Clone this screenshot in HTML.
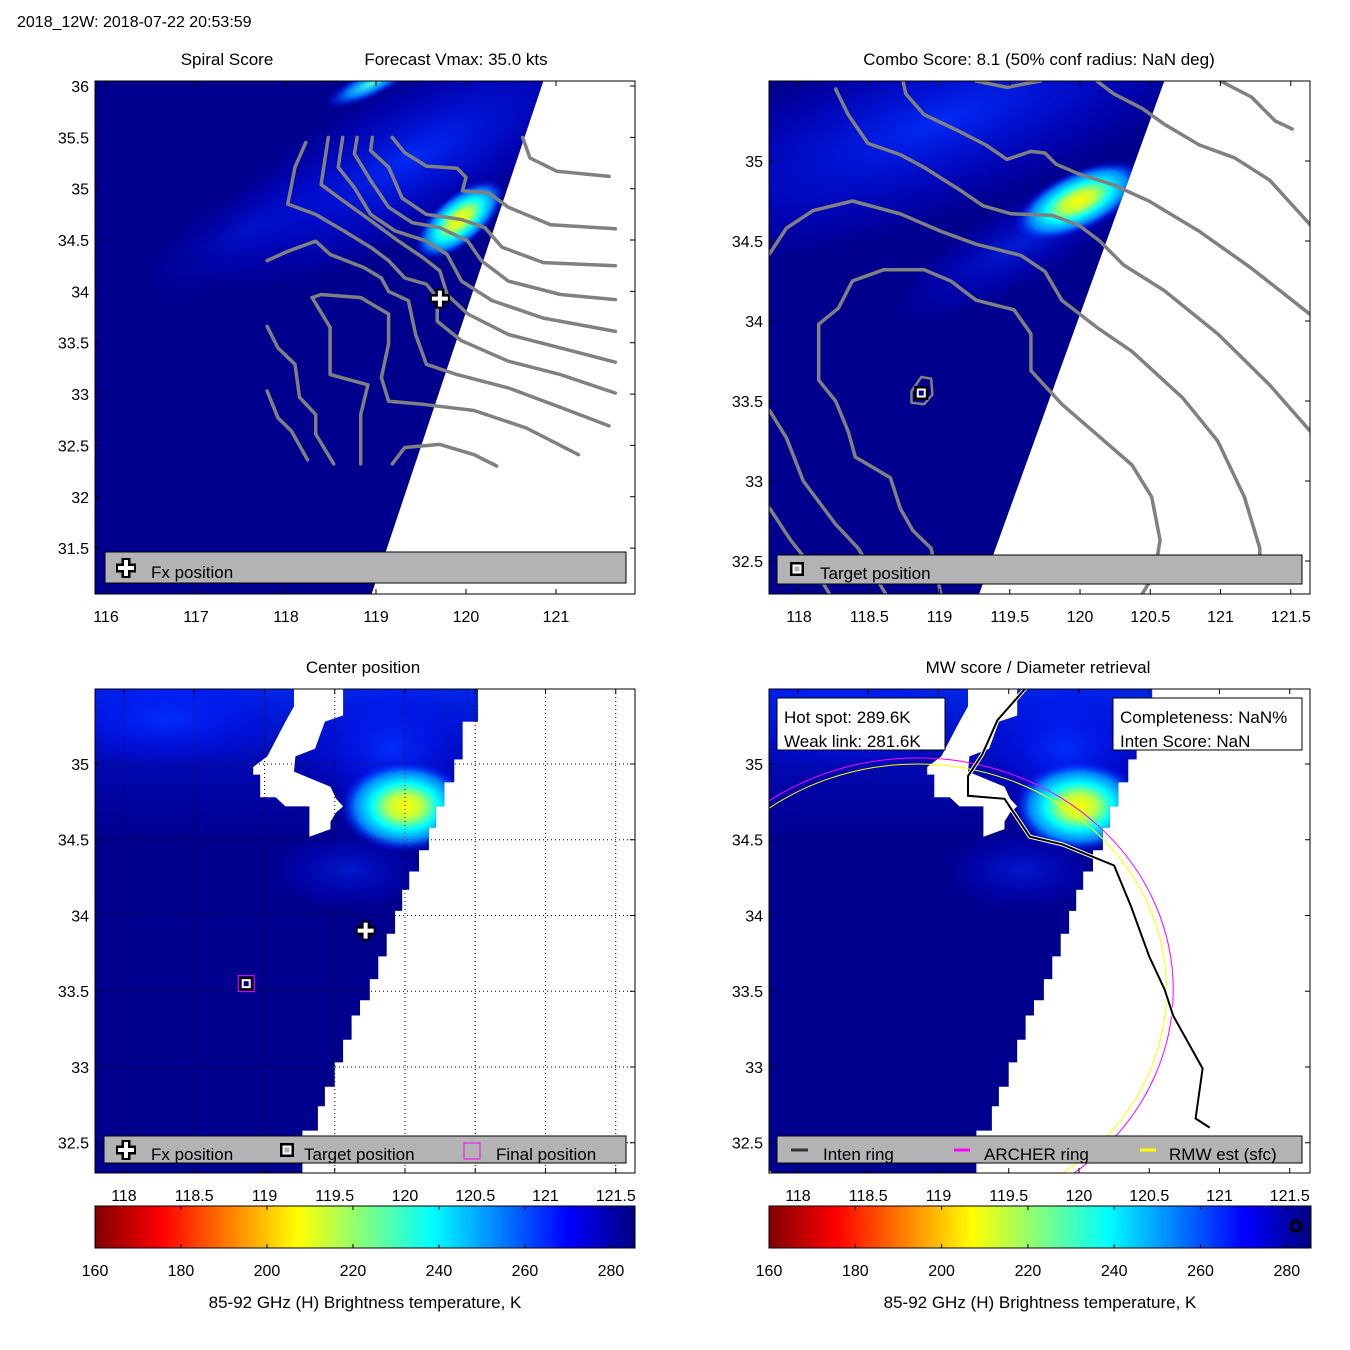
<!DOCTYPE html>
<html><head><meta charset="utf-8"><title>2018_12W</title>
<style>
html,body{margin:0;padding:0;background:#fff;}
svg{display:block;font-family:"Liberation Sans",Arial,sans-serif;}
</style></head>
<body>
<svg id="fig" xmlns="http://www.w3.org/2000/svg" width="1350" height="1350" viewBox="0 0 1350 1350">
<defs>
  <linearGradient id="jetbar" x1="0" x2="1" y1="0" y2="0">
    <stop offset="0" stop-color="#800000"/><stop offset="0.125" stop-color="#ff0000"/>
    <stop offset="0.375" stop-color="#ffff00"/><stop offset="0.5" stop-color="#80ff80"/>
    <stop offset="0.625" stop-color="#00ffff"/><stop offset="0.875" stop-color="#0000ff"/>
    <stop offset="1" stop-color="#000080"/>
  </linearGradient>
  <radialGradient id="blobG">
    <stop offset="0" stop-color="#ffff00"/><stop offset="0.25" stop-color="#c0ff40"/>
    <stop offset="0.5" stop-color="#00ffff"/><stop offset="0.75" stop-color="#0080ff"/>
    <stop offset="1" stop-color="#0000ff" stop-opacity="0"/>
  </radialGradient>
  <radialGradient id="cyanG">
    <stop offset="0" stop-color="#40ffe0"/><stop offset="0.5" stop-color="#0080ff"/>
    <stop offset="1" stop-color="#0000ff" stop-opacity="0"/>
  </radialGradient>
  <radialGradient id="blueG">
    <stop offset="0" stop-color="#0030ff" stop-opacity="0.9"/>
    <stop offset="1" stop-color="#0000ff" stop-opacity="0"/>
  </radialGradient>
  <linearGradient id="topBand" x1="0" x2="0" y1="0" y2="1">
    <stop offset="0" stop-color="#0030ff" stop-opacity="0.8"/>
    <stop offset="1" stop-color="#0000d0" stop-opacity="0"/>
  </linearGradient>
</defs>
<text x="17" y="27" font-size="16">2018_12W: 2018-07-22 20:53:59</text>
<text x="227" y="65" font-size="17" text-anchor="middle">Spiral Score</text>
<text x="456" y="65" font-size="17" text-anchor="middle">Forecast Vmax: 35.0 kts</text>
<text x="1039" y="65" font-size="17" text-anchor="middle">Combo Score: 8.1  (50% conf radius: NaN deg)</text>
<text x="363" y="673" font-size="17" text-anchor="middle">Center position</text>
<text x="1038" y="673" font-size="17" text-anchor="middle">MW score / Diameter retrieval</text>
</svg>
<script>
// ---------- data ----------
const p1XTicks=[116,117,118,119,120,121];
const p1YTicks=[31.5,32,32.5,33,33.5,34,34.5,35,35.5,36];
const p1YLabels=['31.5','32','32.5','33','33.5','34','34.5','35','35.5','36'];
const p2XTicks=[118,118.5,119,119.5,120,120.5,121,121.5];
const p2YTicks=[32.5,33,33.5,34,34.5,35];
const p3XTicks=[118,118.5,119,119.5,120,120.5,121,121.5];
const p3YTicks=[32.5,33,33.5,34,34.5,35];
const cbTicks=[160,180,200,220,240,260,280];
const cbRange=[160,285.6];

const p1Swath=[[120.86,36.05],[118.95,31.05]];
const p1Contours=[
 [[120.63,35.50],[120.71,35.30],[121.01,35.17],[121.59,35.12]],
 [[119.18,35.50],[119.32,35.35],[119.56,35.22],[119.90,35.20],[120.00,35.11],[119.96,34.98],[120.25,34.96],[120.47,34.82],[120.94,34.65],[121.66,34.61]],
 [[118.96,35.50],[118.94,35.37],[119.14,35.21],[119.29,34.91],[119.56,34.75],[119.95,34.70],[120.21,34.62],[120.40,34.43],[120.86,34.28],[121.66,34.25]],
 [[118.79,35.50],[118.76,35.34],[118.94,35.08],[119.14,34.82],[119.40,34.67],[119.71,34.62],[120.02,34.49],[120.17,34.30],[120.47,34.10],[121.05,33.97],[121.66,33.92]],
 [[118.63,35.50],[118.58,35.21],[118.76,35.01],[118.94,34.75],[119.21,34.59],[119.56,34.49],[119.79,34.36],[119.95,34.10],[120.29,33.91],[120.86,33.74],[121.66,33.61]],
 [[118.47,35.50],[118.39,35.04],[118.64,34.88],[118.94,34.69],[119.25,34.49],[119.52,34.33],[119.71,34.20],[119.79,33.97],[120.02,33.78],[120.47,33.58],[121.05,33.45],[121.66,33.31]],
 [[118.22,35.45],[118.10,35.21],[118.02,34.85],[118.33,34.75],[118.64,34.59],[118.94,34.43],[119.14,34.30],[119.32,34.13],[119.56,34.07],[119.68,33.94],[119.68,33.71],[119.95,33.52],[120.47,33.32],[121.05,33.19],[121.66,33.01]],
 [[117.79,34.30],[118.02,34.39],[118.33,34.49],[118.49,34.36],[118.87,34.23],[119.06,34.13],[119.14,34.00],[119.36,33.91],[119.44,33.58],[119.56,33.29],[119.90,33.19],[120.47,33.06],[121.05,32.87],[121.59,32.69]],
 [[118.29,33.94],[118.39,33.97],[118.83,33.94],[119.14,33.78],[119.14,33.49],[119.06,33.16],[119.14,32.93],[119.52,32.90],[120.09,32.84],[120.67,32.67],[121.25,32.41]],
 [[119.18,32.32],[119.32,32.48],[119.71,32.51],[120.09,32.41],[120.34,32.30]],
 [[118.29,33.94],[118.49,33.65],[118.49,33.19],[118.91,33.09],[118.83,32.80],[118.83,32.32]],
 [[117.79,33.66],[117.91,33.45],[118.10,33.29],[118.15,32.97],[118.33,32.80],[118.33,32.61],[118.53,32.32]],
 [[117.79,33.03],[117.91,32.77],[118.06,32.64],[118.24,32.36]]
];
const p1Fx=[119.71,33.93];
const p1Hot=[119.93,34.70];
const p1Cyan=[118.94,36.02];

const p2Swath=[[120.60,35.5],[119.28,32.29]];
const p2Contours=[
 [[118.74,35.5],[118.76,35.42],[118.89,35.29],[119.13,35.19],[119.33,35.10],[119.48,35.01],[119.65,35.06],[119.75,35.05],[119.83,34.98],[119.99,34.92],[120.24,34.85],[120.49,34.75],[120.85,34.56],[121.22,34.33],[121.64,34.04]],
 [[118.26,35.45],[118.35,35.29],[118.49,35.11],[118.72,35.04],[118.89,34.96],[119.16,34.81],[119.31,34.72],[119.51,34.67],[119.80,34.66],[119.99,34.60],[120.14,34.50],[120.31,34.35],[120.60,34.19],[120.98,33.92],[121.35,33.60],[121.64,33.31]],
 [[117.79,34.42],[117.91,34.58],[118.10,34.69],[118.38,34.75],[118.72,34.67],[119.01,34.56],[119.26,34.48],[119.58,34.41],[119.75,34.31],[119.87,34.13],[120.12,33.96],[120.37,33.81],[120.73,33.52],[120.98,33.25],[121.17,32.90],[121.28,32.58],[121.28,32.42]],
 [[119.01,32.29],[118.94,32.58],[118.81,32.69],[118.72,32.83],[118.65,33.02],[118.40,33.15],[118.35,33.31],[118.26,33.50],[118.14,33.63],[118.14,33.98],[118.28,34.08],[118.38,34.25],[118.60,34.32],[118.89,34.32],[119.08,34.25],[119.26,34.13],[119.53,34.07],[119.65,33.92],[119.65,33.69],[119.87,33.48],[120.12,33.29],[120.37,33.10],[120.51,32.90],[120.57,32.63],[120.53,32.42],[120.44,32.29]],
 [[117.79,33.44],[117.91,33.27],[118.03,33.00],[118.26,32.73],[118.42,32.58],[118.62,32.29]],
 [[117.79,32.83],[117.94,32.63],[118.13,32.42],[118.22,32.29]],
 [[119.26,35.5],[119.48,35.46],[119.65,35.49],[119.72,35.5]],
 [[120.12,35.5],[120.24,35.42],[120.44,35.33],[120.60,35.23],[120.85,35.10],[121.10,35.02],[121.35,34.88],[121.64,34.60]],
 [[121.00,35.5],[121.22,35.40],[121.39,35.25],[121.51,35.20]]
];
const p2Loop=[[118.87,33.65],[118.94,33.64],[118.95,33.54],[118.89,33.48],[118.80,33.49],[118.80,33.56],[118.87,33.65]];
const p2Target=[118.87,33.55];
const p2Hot=[119.99,34.75];

// bottom panels (same swath data)
const swathEdge=[[120.59,35.50],[120.52,35.28],[120.41,35.03],[120.35,34.88],[120.28,34.72],[120.22,34.58],[120.17,34.43],[120.10,34.29],[120.03,34.17],[119.98,34.03],[119.93,33.88],[119.87,33.73],[119.81,33.58],[119.75,33.44],[119.68,33.34],[119.62,33.18],[119.56,33.03],[119.50,32.87],[119.43,32.74],[119.38,32.58],[119.27,32.30]];
const swathHole=[[119.21,35.50],[119.56,35.50],[119.56,35.32],[119.43,35.28],[119.36,35.10],[119.22,35.05],[119.21,34.95],[119.47,34.85],[119.51,34.77],[119.56,34.72],[119.51,34.68],[119.47,34.62],[119.47,34.57],[119.32,34.52],[119.32,34.72],[119.15,34.72],[119.08,34.78],[118.97,34.78],[118.97,34.93],[118.92,34.93],[118.92,34.98],[119.02,35.05],[119.15,35.28],[119.21,35.38]];
const bHot=[120.00,34.72];
const p3Fx=[119.72,33.90];
const p3Target=[118.87,33.55];
const coast=[[119.62,35.50],[119.42,35.29],[119.31,35.06],[119.21,34.92],[119.21,34.79],[119.47,34.77],[119.65,34.52],[119.88,34.47],[120.25,34.33],[120.37,34.06],[120.50,33.73],[120.61,33.51],[120.67,33.34],[120.88,32.99],[120.83,32.66],[120.93,32.60]];
const ringCenter=[118.85,33.51];
const archerRadius=1.53;
const rmwRadius=1.49;
const lonStretch=1.19;

// ---------- helpers ----------
const NS='http://www.w3.org/2000/svg';
const svg=document.getElementById('fig');
function mk(tag,attrs,parent){const e=document.createElementNS(NS,tag);for(const k in attrs)e.setAttribute(k,attrs[k]);(parent||svg).appendChild(e);return e;}
function axes(x,y,w,h,lon0,lon1,lat0,lat1){return {x,y,w,h,sx:l=>x+(l-lon0)/(lon1-lon0)*w,sy:t=>y+(lat1-t)/(lat1-lat0)*h};}
function pts(a,ax){return a.map(p=>ax.sx(p[0]).toFixed(1)+','+ax.sy(p[1]).toFixed(1)).join(' ');}
let clipN=0;
function panelGroup(ax,name){
  const cp=mk('clipPath',{id:'clip'+(++clipN)},svg.querySelector('defs'));
  mk('rect',{x:ax.x,y:ax.y,width:ax.w,height:ax.h},cp);
  const g=mk('g',{'clip-path':'url(#clip'+clipN+')'});
  
  
  return g;
}
function frame(ax,xt,yt,xl,yl,xlabY,name){
  const r=mk('rect',{x:ax.x,y:ax.y,width:ax.w,height:ax.h,fill:'none',stroke:'#000','stroke-width':1});
  
  
  xt.forEach((v,i)=>{const X=ax.sx(v);
    const t=mk('path',{d:`M${X},${ax.y+ax.h}v-5M${X},${ax.y}v5`,stroke:'#000'});
    
    
    const l=mk('text',{x:X,y:xlabY,'font-size':16,'text-anchor':'middle'});l.textContent=xl[i];
    
    
  });
  yt.forEach((v,i)=>{const Y=ax.sy(v);
    const t=mk('path',{d:`M${ax.x},${Y}h5M${ax.x+ax.w},${Y}h-5`,stroke:'#000'});
    
    
    const l=mk('text',{x:ax.x-6,y:Y+6,'font-size':16,'text-anchor':'end'});l.textContent=yl[i];
    
    
  });
}
function cross(cx,cy,parent,name){
  const g=mk('g',{},parent);
  
  
  mk('path',{d:`M${cx-10},${cy}h20M${cx},${cy-10}v20`,stroke:'#000','stroke-width':9},g);
  mk('path',{d:`M${cx-8},${cy}h16M${cx},${cy-8}v16`,stroke:'#fff','stroke-width':4},g);
}
function target(cx,cy,parent,name,inner){
  const g=mk('g',{},parent);
  
  
  mk('rect',{x:cx-7,y:cy-7,width:14,height:14,fill:'#000'},g);
  mk('rect',{x:cx-4.5,y:cy-4.5,width:9,height:9,fill:'#fff'},g);
  mk('rect',{x:cx-2.5,y:cy-2.5,width:5,height:5,fill:inner||'#00008f'},g);
}
function legendBox(x,y,w,h,name){
  const r=mk('rect',{x,y,width:w,height:h,fill:'#b3b3b3',stroke:'#000'});
  
  
}
function txt(x,y,s,size,name,anchor){
  const t=mk('text',{x,y,'font-size':size,'text-anchor':anchor||'start'});t.textContent=s;
  
  
  return t;
}
function contourLines(arr,ax,g,name,w){
  arr.forEach(c=>{
    const p=mk('polyline',{points:pts(c,ax),fill:'none',stroke:'#808080','stroke-width':w||3.5,'stroke-linejoin':'round','stroke-linecap':'round'},g);
    
    
  });
}

// ---------- panel 1 ----------
const A1=axes(95,81,540,513,115.878,121.878,31.053,36.049);
const g1=panelGroup(A1,'spiral-score-map');
mk('rect',{x:95,y:81,width:540,height:513,fill:'#fff'},g1);
const sw1=[[115.5,36.2],[p1Swath[0][0],p1Swath[0][1]],[p1Swath[1][0],p1Swath[1][1]],[115.5,31.0]];
const cp1=mk('clipPath',{id:'sw1'},svg.querySelector('defs'));
mk('polygon',{points:pts(sw1,A1)},cp1);
const s1=mk('g',{'clip-path':'url(#sw1)'},g1);


mk('rect',{x:95,y:81,width:540,height:513,fill:'#00008f'},s1);
mk('ellipse',{cx:A1.sx(119.4),cy:A1.sy(35.3),rx:240,ry:75,fill:'url(#blueG)',transform:`rotate(-28 ${A1.sx(119.4)} ${A1.sy(35.3)})`},s1);
mk('ellipse',{cx:A1.sx(117.6),cy:A1.sy(34.6),rx:120,ry:40,fill:'url(#blueG)',opacity:0.4,transform:`rotate(-28 ${A1.sx(117.6)} ${A1.sy(34.6)})`},s1);
mk('ellipse',{cx:A1.sx(p1Cyan[0]),cy:A1.sy(p1Cyan[1]),rx:50,ry:14,fill:'url(#cyanG)',transform:`rotate(-25 ${A1.sx(p1Cyan[0])} ${A1.sy(p1Cyan[1])})`},s1);
const hb1=mk('ellipse',{cx:A1.sx(p1Hot[0]),cy:A1.sy(p1Hot[1]),rx:55,ry:25,fill:'url(#blobG)',transform:`rotate(-40 ${A1.sx(p1Hot[0])} ${A1.sy(p1Hot[1])})`},s1);


contourLines(p1Contours,A1,g1,'spiral-contour');
cross(A1.sx(p1Fx[0]),A1.sy(p1Fx[1]),g1,'fx-position-marker');
frame(A1,p1XTicks,p1YTicks,p1XTicks.map(String),p1YLabels,622,'p1');
legendBox(105,552,521,31,'p1-legend');
cross(126,568,svg,'legend-fx-icon');
txt(151,578,'Fx position',17,'legend-fx-label');

// ---------- panel 2 ----------
const A2=axes(769,81,541,513,117.786,121.637,32.294,35.5);
const g2=panelGroup(A2,'combo-score-map');
mk('rect',{x:769,y:81,width:541,height:513,fill:'#fff'},g2);
const sw2=[[117.5,35.7],[p2Swath[0][0],p2Swath[0][1]],[p2Swath[1][0],p2Swath[1][1]],[117.5,32.2]];
const cp2=mk('clipPath',{id:'sw2'},svg.querySelector('defs'));
mk('polygon',{points:pts(sw2,A2)},cp2);
const s2=mk('g',{'clip-path':'url(#sw2)'},g2);


mk('rect',{x:769,y:81,width:541,height:513,fill:'#00008f'},s2);
mk('ellipse',{cx:A2.sx(119.0),cy:A2.sy(35.25),rx:330,ry:95,fill:'url(#blueG)',transform:`rotate(-20 ${A2.sx(119.0)} ${A2.sy(35.25)})`},s2);
mk('ellipse',{cx:A2.sx(119.6),cy:A2.sy(34.5),rx:150,ry:40,fill:'url(#blueG)',opacity:0.7,transform:`rotate(-30 ${A2.sx(119.6)} ${A2.sy(34.5)})`},s2);
const hb2=mk('ellipse',{cx:A2.sx(p2Hot[0]),cy:A2.sy(p2Hot[1]),rx:70,ry:30,fill:'url(#blobG)',transform:`rotate(-25 ${A2.sx(p2Hot[0])} ${A2.sy(p2Hot[1])})`},s2);


contourLines(p2Contours,A2,g2,'combo-contour');
contourLines([p2Loop],A2,g2,'combo-contour-inner',2.5);
target(A2.sx(p2Target[0]),A2.sy(p2Target[1]),g2,'target-position-marker');
frame(A2,p2XTicks,p2YTicks,p2XTicks.map(String),p2YTicks.map(String),622,'p2');
legendBox(777,555,525,29,'p2-legend');
target(797,569,svg,'legend-target-icon','#b3b3b3');
txt(820,579,'Target position',17,'legend-target-label');

// ---------- bottom panels ----------
function bottomField(ax,g,name){
  mk('rect',{x:ax.x,y:ax.y,width:ax.w,height:ax.h,fill:'#fff'},g);
  const poly=[[117.5,35.6]];
  swathEdge.forEach((p,i)=>{poly.push([p[0],i?swathEdge[i-1][1]:35.6]);poly.push([p[0],p[1]]);});
  poly.push([swathEdge[swathEdge.length-1][0],32.2]);poly.push([117.5,32.2]);
  const id='bsw'+name;
  const cp=mk('clipPath',{id},svg.querySelector('defs'));
  mk('polygon',{points:pts(poly,ax)},cp);
  const s=mk('g',{'clip-path':`url(#${id})`},g);
  
  
  mk('rect',{x:ax.x,y:ax.y,width:ax.w,height:ax.h,fill:'#00008f'},s);
  mk('rect',{x:ax.x,y:ax.y,width:ax.w,height:150,fill:'url(#topBand)'},s);
  mk('ellipse',{cx:ax.sx(118.3),cy:ax.sy(35.3),rx:120,ry:50,fill:'url(#blueG)'},s);
  mk('ellipse',{cx:ax.sx(119.9),cy:ax.sy(35.1),rx:90,ry:70,fill:'url(#blueG)'},s);
  mk('ellipse',{cx:ax.sx(119.6),cy:ax.sy(34.3),rx:80,ry:40,fill:'url(#blueG)',opacity:0.6},s);
  const hb=mk('ellipse',{cx:ax.sx(bHot[0]),cy:ax.sy(bHot[1]),rx:66,ry:46,fill:'url(#blobG)'},s);
  
  
  const h=mk('polygon',{points:pts(swathHole,ax),fill:'#fff'},g);
  
  
}
const A3=axes(95,689,540,484,117.794,121.637,32.30,35.495);
const g3=panelGroup(A3,'center-position-map');
bottomField(A3,g3,'3');
p3XTicks.forEach(v=>{const l=mk('line',{x1:A3.sx(v),x2:A3.sx(v),y1:689,y2:1173,stroke:'#000','stroke-dasharray':'1 3'},g3);
  
  });
p3YTicks.forEach(v=>{const l=mk('line',{x1:95,x2:635,y1:A3.sy(v),y2:A3.sy(v),stroke:'#000','stroke-dasharray':'1 3'},g3);
  
  });
cross(A3.sx(p3Fx[0]),A3.sy(p3Fx[1]),g3,'fx-position-marker');
target(A3.sx(p3Target[0]),A3.sy(p3Target[1]),g3,'target-position-marker');
const fp=mk('rect',{x:A3.sx(p3Target[0])-8,y:A3.sy(p3Target[1])-8,width:16,height:16,fill:'none',stroke:'#ff00ff'},g3);


frame(A3,p3XTicks,p3YTicks,p3XTicks.map(String),p3YTicks.map(String),1201,'p3');
legendBox(104,1136,522,27,'p3-legend');
cross(126,1150,svg,'legend-fx-icon');
txt(151,1160,'Fx position',17,'legend-fx-label');
target(287,1150,svg,'legend-target-icon','#b3b3b3');
txt(304,1160,'Target position',17,'legend-target-label');
const lf=mk('rect',{x:464,y:1143,width:16,height:16,fill:'none',stroke:'#ff00ff'});


txt(496,1160,'Final position',17,'legend-final-label');

const A4=axes(769,689,541,484,117.794,121.644,32.30,35.495);
const g4=panelGroup(A4,'mw-score-map');
bottomField(A4,g4,'4');
function ring(r,color,name){
  const cx=A4.sx(ringCenter[0]),cy=A4.sy(ringCenter[1]);
  const e=mk('ellipse',{cx,cy,rx:A4.sx(ringCenter[0]+r*lonStretch)-cx,ry:cy-A4.sy(ringCenter[1]+r),fill:'none',stroke:color,'stroke-width':1},g4);
  
  
}
ring(archerRadius,'#ff00ff','archer-ring');
ring(rmwRadius,'#ffff00','rmw-ring');
const cw=mk('polyline',{points:pts(coast,A4),fill:'none',stroke:'#fff','stroke-width':4},g4);


const cl=mk('polyline',{points:pts(coast,A4),fill:'none',stroke:'#000','stroke-width':2},g4);


frame(A4,p3XTicks,p3YTicks,p3XTicks.map(String),p3YTicks.map(String),1201,'p4');
const b1=mk('rect',{x:777,y:698,width:168,height:52,fill:'#fff',stroke:'#000'});


txt(784,723,'Hot spot: 289.6K',17,'hot-spot-text');
txt(784,747,'Weak link: 281.6K',17,'weak-link-text');
const b2=mk('rect',{x:1113,y:698,width:189,height:52,fill:'#fff',stroke:'#000'});


txt(1120,723,'Completeness: NaN%',17,'completeness-text');
txt(1120,747,'Inten Score: NaN',17,'inten-score-text');
legendBox(777,1136,525,27,'p4-legend');
const li1=mk('line',{x1:791,x2:808,y1:1150,y2:1150,stroke:'#333','stroke-width':3});


txt(823,1160,'Inten ring',17,'legend-inten-label');
const li2=mk('line',{x1:954,x2:970,y1:1150,y2:1150,stroke:'#ff00ff','stroke-width':3});


txt(984,1160,'ARCHER ring',17,'legend-archer-label');
const li3=mk('line',{x1:1140,x2:1156,y1:1150,y2:1150,stroke:'#ffff00','stroke-width':3});


txt(1169,1160,'RMW est (sfc)',17,'legend-rmw-label');

// ---------- colorbars ----------
function colorbar(x0,w,name){
  const r=mk('rect',{x:x0,y:1206,width:w,height:42,fill:'url(#jetbar)',stroke:'#000'});
  
  
  const s=v=>x0+(v-cbRange[0])/(cbRange[1]-cbRange[0])*w;
  cbTicks.forEach(v=>{
    const t=mk('path',{d:`M${s(v)},1206v4M${s(v)},1248v-4`,stroke:'#000'});
    
    
    const l=mk('text',{x:s(v),y:1276,'font-size':16,'text-anchor':'middle'});l.textContent=v;
    
    
  });
  txt(x0+w/2,1308,'85-92 GHz (H) Brightness temperature, K',17,name+'-label','middle');
}
colorbar(95,540,'colorbar-left');
colorbar(769,542,'colorbar-right');
const dot=mk('circle',{cx:1296,cy:1226,r:5,fill:'none',stroke:'#000','stroke-width':3});


</script>
</body></html>
